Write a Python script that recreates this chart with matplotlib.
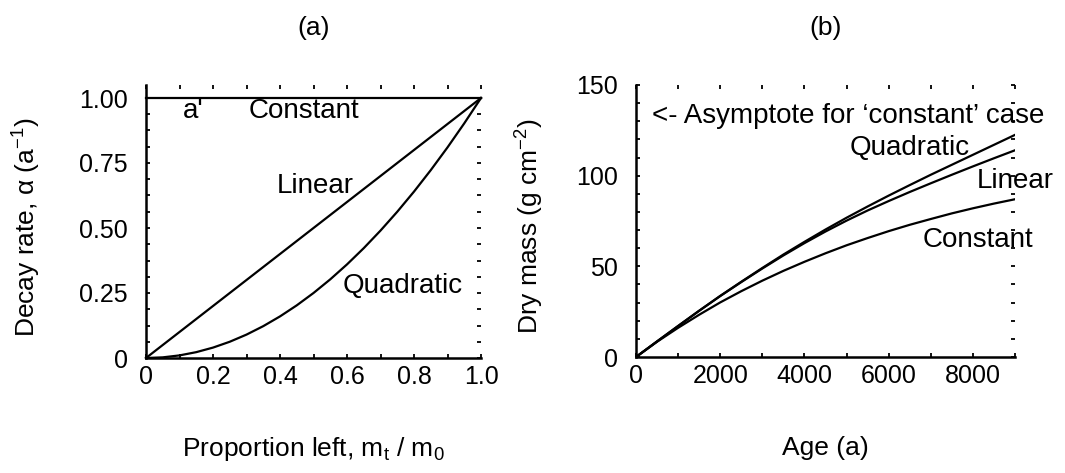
import matplotlib
matplotlib.use("Agg")
import matplotlib.pyplot as plt
from matplotlib.ticker import MultipleLocator

plt.rcParams['font.family'] = ['Liberation Sans', 'DejaVu Sans']
plt.rcParams['mathtext.fontset'] = 'custom'
plt.rcParams['mathtext.rm'] = 'Liberation Sans'
plt.rcParams['mathtext.it'] = 'Liberation Sans:italic'

# ---- data: panel (a) decay rate vs proportion left ----
prop_left = [0.0, 0.05, 0.1, 0.15, 0.2, 0.25, 0.3, 0.35, 0.4, 0.45, 0.5,
             0.55, 0.6, 0.65, 0.7, 0.75, 0.8, 0.85, 0.9, 0.95, 1.0]
rate_constant = [1.0] * 21
rate_linear = [0.0, 0.05, 0.1, 0.15, 0.2, 0.25, 0.3, 0.35, 0.4, 0.45, 0.5,
               0.55, 0.6, 0.65, 0.7, 0.75, 0.8, 0.85, 0.9, 0.95, 1.0]
rate_quadratic = [0.0, 0.0025, 0.01, 0.0225, 0.04, 0.0625, 0.09, 0.1225, 0.16,
                  0.2025, 0.25, 0.3025, 0.36, 0.4225, 0.49, 0.5625, 0.64,
                  0.7225, 0.81, 0.9025, 1.0]

# ---- data: panel (b) dry mass vs age ----
age = [0, 500, 1000, 1500, 2000, 2500, 3000, 3500, 4000, 4500,
       5000, 5500, 6000, 6500, 7000, 7500, 8000, 8500, 9000]
mass_constant = [0, 8.4, 16.1, 23.3, 30.1, 36.3, 42.1, 47.5, 52.5, 57.2,
                 61.6, 65.6, 69.4, 72.9, 76.1, 79.2, 82.0, 84.6, 87.0]
mass_linear = [0, 8.6, 17.1, 25.5, 33.6, 41.3, 48.8, 56.0, 62.8, 69.2,
               75.2, 80.8, 86.0, 91.0, 95.8, 100.5, 105.1, 109.6, 114.0]
mass_quadratic = [0, 8.6, 17.1, 25.5, 33.7, 41.5, 49.1, 56.5, 63.5, 70.3,
                  76.8, 83.0, 89.0, 94.8, 100.5, 106.0, 111.5, 117.0, 122.5]

W, H = 1065, 473
fig = plt.figure(figsize=(W / 100, H / 100), dpi=100)

def px_axes(x0, x1, y0, y1):
    return fig.add_axes([x0 / W, (H - y1) / H, (x1 - x0) / W, (y1 - y0) / H])

axa = px_axes(146, 481, 85, 358)
axb = px_axes(636, 1015, 85, 357)

FS_TICK = 18
FS_LABEL = 19
FS_ANN = 20
LW = 1.6

def style(ax):
    for s in ('top', 'right'):
        ax.spines[s].set_visible(False)
    for s in ('left', 'bottom'):
        ax.spines[s].set_linewidth(1.8)
    ax.tick_params(which='both', direction='in', top=True, right=True,
                   length=3, width=1.3, labelsize=FS_TICK)
    ax.tick_params(axis='x', which='both', pad=5)
    ax.tick_params(axis='y', which='both', pad=13)

# ---- panel (a) ----
axa.plot(prop_left, rate_constant, color='black', lw=LW, clip_on=False)
axa.plot(prop_left, rate_linear, color='black', lw=LW, clip_on=False)
axa.plot(prop_left, rate_quadratic, color='black', lw=LW, clip_on=False)
axa.set_xlim(0, 1.0)
axa.set_ylim(0, 1.05)
axa.xaxis.set_minor_locator(MultipleLocator(0.1))
axa.yaxis.set_minor_locator(MultipleLocator(0.0625))
axa.set_xticks([0, 0.2, 0.4, 0.6, 0.8, 1.0], ['0', '0.2', '0.4', '0.6', '0.8', '1.0'])
axa.set_yticks([0, 0.25, 0.5, 0.75, 1.0], ['0', '0.25', '0.50', '0.75', '1.00'])
style(axa)
axa.set_title('(a)', fontsize=FS_LABEL, pad=36)
axa.set_xlabel('Proportion left, m$_\\mathrm{t}$ / m$_\\mathrm{0}$', fontsize=FS_LABEL, va='center')
axa.xaxis.set_label_coords(0.5, -0.335)
axa.set_ylabel('Decay rate, α (a$^{-1}$)', fontsize=FS_LABEL, va='center')
axa.yaxis.set_label_coords(-0.355, 0.48)
axa.text(0.11, 0.925, "a'", fontsize=FS_ANN, ha='left', va='baseline')
axa.text(0.307, 0.925, 'Constant', fontsize=FS_ANN, ha='left', va='baseline')
axa.text(0.39, 0.635, 'Linear', fontsize=FS_ANN, ha='left', va='baseline')
axa.text(0.588, 0.25, 'Quadratic', fontsize=FS_ANN, ha='left', va='baseline')

# ---- panel (b) ----
axb.plot(age, mass_quadratic, color='black', lw=LW)
axb.plot(age, mass_linear, color='black', lw=LW)
axb.plot(age, mass_constant, color='black', lw=LW)
axb.set_xlim(0, 9000)
axb.set_ylim(0, 150)
axb.xaxis.set_major_locator(MultipleLocator(2000))
axb.xaxis.set_minor_locator(MultipleLocator(1000))
axb.yaxis.set_major_locator(MultipleLocator(50))
axb.yaxis.set_minor_locator(MultipleLocator(10))
style(axb)
axb.set_title('(b)', fontsize=FS_LABEL, pad=36)
axb.set_xlabel('Age (a)', fontsize=FS_LABEL, va='center')
axb.xaxis.set_label_coords(0.5, -0.335)
axb.set_ylabel('Dry mass (g cm$^{-2}$)', fontsize=FS_LABEL, va='center')
axb.yaxis.set_label_coords(-0.28, 0.48)
axb.text(380, 129, '<- Asymptote for \u2018constant\u2019 case', fontsize=FS_ANN,
         ha='left', va='baseline')
axb.text(5083, 111.4, 'Quadratic', fontsize=FS_ANN, ha='left', va='baseline')
axb.text(8100, 93.2, 'Linear', fontsize=FS_ANN, ha='left', va='baseline')
axb.text(6817, 60.7, 'Constant', fontsize=FS_ANN, ha='left', va='baseline')

fig.savefig('out.png', dpi=100, facecolor='white')
